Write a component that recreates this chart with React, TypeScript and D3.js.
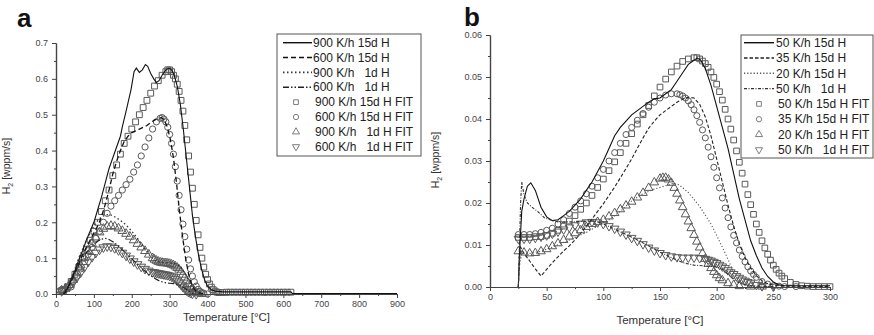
import React, { useEffect, useRef } from 'react'
import * as d3 from 'd3'

type Pt = [number, number]

// ---- panel a : T [°C] vs H2 [wppm/s] ----
const a900_15dH: Pt[] = [[20,0],[25,0.004],[30,0.015],[40,0.04],[50,0.065],[60,0.095],[70,0.12],[80,0.15],[90,0.175],[100,0.2],[110,0.235],[120,0.27],[130,0.31],[140,0.35],[150,0.38],[160,0.41],[170,0.44],[175,0.466],[185,0.51],[198,0.57],[206,0.62],[212,0.63],[220,0.618],[228,0.625],[236,0.64],[242,0.635],[250,0.615],[258,0.6],[265,0.59],[272,0.595],[280,0.61],[290,0.625],[298,0.63],[305,0.625],[312,0.61],[320,0.58],[328,0.53],[336,0.46],[344,0.38],[352,0.3],[360,0.22],[368,0.16],[376,0.11],[384,0.07],[392,0.04],[400,0.022],[410,0.012],[420,0.008],[440,0.006],[520,0.006],[620,0.006],[624,0.001],[900,0.001]]
const a600_15dH: Pt[] = [[20,0],[30,0.015],[40,0.035],[50,0.06],[60,0.085],[70,0.11],[80,0.13],[90,0.15],[100,0.17],[110,0.19],[120,0.215],[130,0.25],[140,0.29],[150,0.335],[160,0.37],[170,0.4],[180,0.425],[190,0.44],[200,0.45],[210,0.455],[220,0.46],[230,0.465],[240,0.47],[250,0.478],[260,0.485],[270,0.49],[278,0.492],[286,0.485],[294,0.465],[302,0.43],[310,0.38],[318,0.31],[326,0.23],[334,0.16],[342,0.1],[350,0.055],[358,0.027],[366,0.012],[375,0.004],[390,0]]
const a900_1dH: Pt[] = [[20,0],[30,0.02],[40,0.045],[50,0.07],[60,0.1],[70,0.125],[80,0.15],[90,0.17],[100,0.19],[110,0.205],[120,0.215],[130,0.22],[140,0.222],[150,0.218],[160,0.212],[170,0.205],[180,0.197],[190,0.187],[200,0.175],[210,0.162],[220,0.148],[230,0.133],[240,0.118],[250,0.104],[260,0.095],[270,0.09],[280,0.088],[290,0.087],[300,0.087],[310,0.086],[320,0.082],[330,0.074],[340,0.058],[350,0.036],[360,0.016],[370,0.005],[380,0]]
const a600_1dH: Pt[] = [[20,0],[30,0.015],[40,0.035],[50,0.06],[60,0.08],[70,0.1],[80,0.115],[90,0.128],[100,0.138],[110,0.147],[120,0.153],[130,0.155],[140,0.152],[150,0.146],[160,0.138],[170,0.128],[180,0.118],[190,0.108],[200,0.098],[210,0.088],[220,0.078],[230,0.068],[240,0.059],[250,0.051],[260,0.044],[270,0.038],[280,0.034],[290,0.031],[300,0.03],[310,0.029],[320,0.027],[330,0.023],[340,0.016],[350,0.008],[360,0.002],[370,0]]

const a900_15dFit: Pt[] = [[15,0.01],[20,0.012],[30,0.02],[40,0.035],[50,0.055],[60,0.075],[70,0.1],[80,0.125],[90,0.15],[100,0.175],[110,0.2],[120,0.23],[130,0.26],[140,0.29],[150,0.33],[160,0.36],[170,0.39],[180,0.42],[190,0.44],[200,0.46],[210,0.48],[220,0.5],[230,0.52],[240,0.54],[250,0.56],[260,0.58],[270,0.595],[280,0.61],[290,0.62],[295,0.625],[300,0.625],[305,0.62],[310,0.61],[315,0.6],[320,0.585],[325,0.565],[330,0.54],[335,0.51],[340,0.47],[345,0.43],[350,0.385],[355,0.34],[360,0.295],[365,0.25],[370,0.205],[375,0.165],[380,0.13],[385,0.1],[390,0.075],[395,0.055],[400,0.04],[405,0.028],[410,0.019],[415,0.012],[420,0.008],[425,0.005],[430,0.004],[440,0.004],[450,0.005],[460,0.005],[470,0.005],[480,0.005],[490,0.005],[500,0.005],[510,0.005],[520,0.005],[530,0.005],[540,0.005],[550,0.005],[560,0.005],[570,0.005],[580,0.005],[590,0.005],[600,0.005],[610,0.005],[620,0.005]]
const a600_15dFit: Pt[] = [[15,0.012],[40,0.02],[45,0.035],[55,0.05],[65,0.07],[75,0.09],[85,0.11],[95,0.13],[105,0.155],[115,0.175],[125,0.2],[135,0.225],[145,0.245],[155,0.26],[165,0.275],[175,0.29],[185,0.305],[195,0.32],[205,0.34],[215,0.36],[225,0.385],[235,0.41],[245,0.435],[255,0.46],[265,0.48],[275,0.49],[280,0.492],[285,0.488],[290,0.48],[295,0.465],[300,0.445],[305,0.42],[310,0.39],[315,0.355],[320,0.315],[325,0.275],[330,0.235],[335,0.195],[340,0.16],[345,0.125],[350,0.095],[355,0.07],[360,0.05],[365,0.034],[370,0.022],[375,0.013],[380,0.007],[385,0.004],[390,0.002],[400,0]]
const a900_1dFit: Pt[] = [[15,0.01],[25,0.015],[35,0.025],[45,0.04],[55,0.06],[65,0.08],[75,0.1],[85,0.12],[95,0.14],[105,0.158],[115,0.172],[125,0.182],[135,0.188],[145,0.19],[155,0.188],[165,0.183],[175,0.176],[185,0.168],[195,0.16],[205,0.15],[215,0.14],[225,0.13],[235,0.12],[245,0.11],[255,0.1],[260,0.096],[265,0.093],[270,0.09],[275,0.088],[280,0.087],[285,0.086],[290,0.086],[295,0.085],[300,0.084],[305,0.082],[310,0.08],[315,0.077],[320,0.073],[325,0.068],[330,0.062],[335,0.054],[340,0.046],[345,0.037],[350,0.028],[355,0.02],[360,0.013],[365,0.008],[370,0.004],[375,0.002],[385,0]]
const a600_1dFit: Pt[] = [[15,0.008],[25,0.012],[35,0.02],[45,0.032],[55,0.046],[65,0.06],[75,0.075],[85,0.09],[95,0.103],[105,0.115],[115,0.124],[125,0.13],[135,0.133],[145,0.132],[155,0.128],[165,0.122],[175,0.115],[185,0.107],[195,0.099],[205,0.091],[215,0.083],[225,0.076],[235,0.07],[245,0.065],[255,0.061],[260,0.06],[265,0.059],[270,0.058],[275,0.057],[280,0.056],[285,0.055],[290,0.054],[295,0.053],[300,0.051],[305,0.049],[310,0.046],[315,0.042],[320,0.037],[325,0.032],[330,0.026],[335,0.02],[340,0.015],[345,0.01],[350,0.006],[355,0.003],[360,0.001],[370,0]]

// ---- panel b ----
const b50_15dH: Pt[] = [[25,0],[26,0.008],[28,0.018],[30,0.021],[33,0.024],[36,0.0248],[40,0.023],[45,0.019],[50,0.0167],[55,0.0158],[60,0.016],[65,0.017],[70,0.018],[75,0.0195],[80,0.021],[85,0.023],[90,0.025],[95,0.0275],[100,0.03],[105,0.033],[110,0.036],[115,0.038],[120,0.0395],[125,0.041],[130,0.042],[135,0.043],[140,0.044],[145,0.0448],[150,0.045],[155,0.046],[160,0.047],[165,0.049],[170,0.051],[175,0.053],[180,0.054],[183,0.0545],[186,0.054],[190,0.052],[195,0.048],[200,0.043],[205,0.038],[210,0.033],[215,0.027],[220,0.021],[225,0.016],[230,0.011],[235,0.0075],[240,0.0045],[245,0.0025],[250,0.0012],[255,0.0005],[260,0.0003],[300,0.0003]]
const b35_15dH: Pt[] = [[25,0],[26,0.006],[27,0.0095],[30,0.008],[35,0.0062],[40,0.0043],[45,0.0026],[50,0.0042],[55,0.0058],[60,0.0072],[65,0.0086],[70,0.0098],[75,0.0112],[80,0.0128],[85,0.0145],[90,0.0162],[95,0.018],[100,0.0198],[105,0.0218],[110,0.0238],[115,0.026],[120,0.0282],[125,0.0305],[130,0.033],[135,0.0355],[140,0.0378],[145,0.0395],[150,0.041],[155,0.042],[160,0.043],[165,0.044],[170,0.0447],[175,0.0452],[180,0.045],[185,0.0435],[190,0.0405],[195,0.036],[200,0.0305],[205,0.025],[210,0.0195],[215,0.0145],[220,0.0103],[225,0.007],[230,0.0045],[235,0.0027],[240,0.0015],[245,0.0008],[250,0.0004],[260,0.0002],[300,0.0001]]
const b20_15dH: Pt[] = [[25,0],[26,0.005],[28,0.008],[35,0.008],[45,0.0085],[55,0.0095],[65,0.0106],[75,0.0118],[85,0.013],[95,0.0145],[105,0.016],[115,0.018],[125,0.0205],[135,0.0222],[145,0.0233],[155,0.0241],[162,0.0247],[167,0.0243],[175,0.0225],[185,0.0192],[195,0.015],[205,0.0095],[210,0.0066],[215,0.0035],[220,0.0015],[225,0.0005],[235,0.0001],[250,0]]
const b50_1dH: Pt[] = [[25,0],[26,0.01],[27,0.02],[28,0.025],[30,0.022],[33,0.02],[37,0.019],[42,0.018],[48,0.0165],[55,0.0158],[60,0.0155],[70,0.0155],[80,0.0156],[90,0.0157],[95,0.0155],[100,0.015],[110,0.0138],[120,0.0125],[130,0.0112],[140,0.0098],[150,0.0083],[160,0.007],[170,0.0058],[180,0.0052],[190,0.005],[200,0.0048],[205,0.0042],[210,0.003],[215,0.0018],[220,0.0009],[230,0.0003],[250,0.0001]]

const b50_15dFit: Pt[] = [[25,0.0118],[30,0.0118],[35,0.0118],[40,0.012],[45,0.012],[50,0.0123],[55,0.0128],[60,0.0135],[65,0.0145],[70,0.0157],[75,0.017],[80,0.0185],[85,0.02],[90,0.0218],[95,0.0237],[100,0.0257],[105,0.0277],[110,0.0298],[115,0.032],[120,0.0342],[125,0.0365],[130,0.0388],[135,0.041],[140,0.0432],[145,0.0455],[150,0.0476],[155,0.0495],[160,0.0512],[165,0.0526],[170,0.0537],[175,0.0543],[180,0.0546],[182.5,0.0546],[185,0.0543],[187.5,0.0538],[190,0.0532],[192.5,0.0523],[195,0.0512],[197.5,0.0499],[200,0.0483],[202.5,0.0465],[205,0.0445],[207.5,0.0423],[210,0.04],[212.5,0.0376],[215,0.035],[217.5,0.0324],[220,0.0297],[222.5,0.0271],[225,0.0245],[227.5,0.022],[230,0.0196],[232.5,0.0173],[235,0.015],[237.5,0.013],[240,0.011],[242.5,0.0093],[245,0.0078],[247.5,0.0064],[250,0.0052],[252.5,0.0042],[255,0.0033],[257.5,0.0026],[260,0.002],[265,0.0011],[270,0.0006],[275,0.0003],[280,0.0002],[285,0.0001],[290,0.0001],[295,0.0001],[300,0.0001]]
const b35_15dFit: Pt[] = [[25,0.0125],[30,0.0125],[35,0.0125],[40,0.0127],[45,0.013],[50,0.0135],[55,0.014],[60,0.015],[65,0.016],[70,0.0175],[75,0.019],[80,0.0205],[85,0.0222],[90,0.024],[95,0.026],[100,0.028],[105,0.03],[110,0.032],[115,0.0342],[120,0.0363],[125,0.038],[130,0.0397],[135,0.0413],[140,0.0428],[145,0.044],[150,0.045],[155,0.0457],[160,0.046],[165,0.046],[167.5,0.0458],[170,0.0455],[172.5,0.045],[175,0.0443],[177.5,0.0434],[180,0.0422],[182.5,0.0408],[185,0.0392],[187.5,0.0374],[190,0.0355],[192.5,0.0333],[195,0.031],[197.5,0.0285],[200,0.026],[202.5,0.0236],[205,0.0212],[207.5,0.0188],[210,0.0165],[212.5,0.0143],[215,0.0123],[217.5,0.0105],[220,0.0088],[222.5,0.0073],[225,0.006],[227.5,0.0048],[230,0.0038],[232.5,0.003],[235,0.0023],[240,0.0013],[245,0.0007],[250,0.0003],[255,0.0002],[260,0.0001],[270,0.0001]]
const b20_15dFit: Pt[] = [[25,0.0085],[30,0.0082],[35,0.008],[40,0.0081],[45,0.0085],[50,0.009],[55,0.0097],[60,0.0104],[65,0.0112],[70,0.012],[75,0.0128],[80,0.0135],[85,0.0143],[90,0.015],[95,0.0155],[100,0.016],[105,0.0168],[110,0.0176],[115,0.0185],[120,0.0194],[125,0.0203],[130,0.0213],[135,0.0224],[140,0.0236],[145,0.0249],[150,0.0258],[152.5,0.026],[155,0.026],[157.5,0.0256],[160,0.0248],[162.5,0.0236],[165,0.0222],[167.5,0.0206],[170,0.019],[172.5,0.0173],[175,0.0156],[177.5,0.014],[180,0.0124],[182.5,0.0108],[185,0.0094],[187.5,0.008],[190,0.0067],[192.5,0.0055],[195,0.0045],[197.5,0.0036],[200,0.0028],[202.5,0.0021],[205,0.0016],[210,0.0009],[215,0.0005],[220,0.0002],[230,0.0001],[240,0.0001]]
const b50_1dFit: Pt[] = [[25,0.0115],[30,0.0115],[35,0.0115],[40,0.0117],[45,0.012],[50,0.0123],[55,0.0127],[60,0.0132],[65,0.0137],[70,0.0142],[75,0.0147],[80,0.0151],[85,0.0154],[90,0.0155],[95,0.0154],[100,0.015],[105,0.0145],[110,0.0139],[115,0.0132],[120,0.0125],[125,0.0117],[130,0.011],[135,0.0102],[140,0.0094],[145,0.0087],[150,0.0081],[155,0.0076],[160,0.0073],[165,0.0071],[170,0.007],[175,0.007],[180,0.007],[185,0.0069],[190,0.0067],[192.5,0.0065],[195,0.0063],[197.5,0.006],[200,0.0057],[202.5,0.0053],[205,0.0049],[207.5,0.0045],[210,0.004],[212.5,0.0035],[215,0.0031],[217.5,0.0026],[220,0.0022],[222.5,0.0018],[225,0.0015],[227.5,0.0012],[230,0.0009],[235,0.0005],[240,0.0002],[250,0.0001]]

// axis ticks
const aXTicks = [0, 100, 200, 300, 400, 500, 600, 700, 800, 900]
const aXMinor = [50, 150, 250, 350, 450, 550, 650, 750, 850]
const aYTicks = [0, 0.1, 0.2, 0.3, 0.4, 0.5, 0.6, 0.7]
const aYMinor = [0.05, 0.15, 0.25, 0.35, 0.45, 0.55, 0.65]
const bXTicks = [0, 50, 100, 150, 200, 250, 300]
const bXMinor = [25, 75, 125, 175, 225, 275]
const bYTicks = [0, 0.01, 0.02, 0.03, 0.04, 0.05, 0.06]
const bYMinor = [0.005, 0.015, 0.025, 0.035, 0.045, 0.055]

const aLegend = ['900 K/h 15d H', '600 K/h 15d H', '900 K/h \u20071d H', '600 K/h \u20071d H', '900 K/h 15d H FIT', '600 K/h 15d H FIT', '900 K/h \u20071d H FIT', '600 K/h \u20071d H FIT']
const bLegend = ['50 K/h 15d H', '35 K/h 15d H', '20 K/h 15d H', '50 K/h \u20071d H', '50 K/h 15d H FIT', '35 K/h 15d H FIT', '20 K/h 15d H FIT', '50 K/h \u20071d H FIT']

const FONT = '"Liberation Sans", Arial, sans-serif'
const W = 874, H = 335

const symTypes = [d3.symbolSquare, d3.symbolCircle, d3.symbolTriangle, d3.symbolTriangle]
const symRot = ['', '', '', ' rotate(180)']
const MARK = '#5a5a5a'

function drawPanel(svg: any, p: any) {
  const x = d3.scaleLinear().domain(p.xDomain).range([p.left, p.right])
  const y = d3.scaleLinear().domain(p.yDomain).range([p.bottom, p.top])
  const g = svg.append('g')

  // fit markers first, lines on top
  p.fits.forEach((data: Pt[], i: number) => {
    g.append('g').selectAll('path').data(data).join('path')
      .attr('transform', (d: Pt) => `translate(${x(d[0])},${y(d[1])})${symRot[i]}`)
      .attr('d', d3.symbol().type(symTypes[i]).size(i === 1 ? p.msize * 0.9 : p.msize))
      .attr('fill', 'none').attr('stroke', MARK).attr('stroke-width', 1)
  })
  const line = d3.line<Pt>().x(d => x(d[0])).y(d => y(d[1]))
  p.lines.forEach((data: Pt[], i: number) => {
    g.append('path').attr('d', line(data)).attr('fill', 'none')
      .attr('stroke', p.lineColor[i]).attr('stroke-width', p.lineW[i])
      .attr('stroke-dasharray', p.dash[i])
  })

  // axes
  const styleAxis = (ax: any) => {
    ax.select('.domain').attr('stroke', '#444').attr('stroke-width', 1.2)
    ax.selectAll('line').attr('stroke', '#444').attr('stroke-width', 1)
    ax.selectAll('text').attr('font-family', FONT).attr('font-size', 9).attr('fill', '#444')
  }
  const xa = g.append('g').attr('transform', `translate(0,${p.bottom})`)
    .call(d3.axisBottom(x).tickValues(p.xTicks).tickSize(4).tickSizeOuter(0).tickPadding(3))
  styleAxis(xa)
  const xm = g.append('g').attr('transform', `translate(0,${p.bottom})`)
    .call(d3.axisBottom(x).tickValues(p.xMinor).tickSize(2).tickSizeOuter(0).tickFormat(() => ''))
  styleAxis(xm)
  const ya = g.append('g').attr('transform', `translate(${p.left},0)`)
    .call(d3.axisLeft(y).tickValues(p.yTicks).tickSize(4).tickSizeOuter(0).tickPadding(4).tickFormat(d3.format(p.yFmt)))
  styleAxis(ya)
  const ym = g.append('g').attr('transform', `translate(${p.left},0)`)
    .call(d3.axisLeft(y).tickValues(p.yMinor).tickSize(2).tickSizeOuter(0).tickFormat(() => ''))
  styleAxis(ym)

  // titles
  g.append('text').attr('x', (p.left + p.right) / 2).attr('y', p.xTitleY)
    .attr('text-anchor', 'middle').attr('font-family', FONT).attr('font-size', 11.5).attr('fill', '#333')
    .text('Temperature [°C]')
  const yt = g.append('text').attr('transform', `translate(${p.yTitleX},${p.yTitleY}) rotate(-90)`)
    .attr('text-anchor', 'middle').attr('font-family', FONT).attr('font-size', 10.5).attr('fill', '#333')
  yt.append('tspan').text('H')
  yt.append('tspan').attr('font-size', 7).attr('dy', 2.5).text('2')
  yt.append('tspan').attr('dy', -2.5).text(' [wppm/s]')

  g.append('text').attr('x', p.letterX).attr('y', p.letterY).attr('font-family', FONT)
    .attr('font-weight', 'bold').attr('font-size', 26).attr('fill', '#111').text(p.letter)

  // legend
  const L = p.legend
  g.append('rect').attr('x', L.x).attr('y', L.y).attr('width', L.w).attr('height', L.h)
    .attr('fill', '#fff').attr('stroke', '#555').attr('stroke-width', 1)
  p.labels.forEach((lab: string, i: number) => {
    const cy = L.row0 + i * L.dy
    if (i < 4) {
      g.append('line').attr('x1', L.lx0).attr('x2', L.lx1).attr('y1', cy).attr('y2', cy)
        .attr('stroke', p.lineColor[i]).attr('stroke-width', p.lineW[i] + 0.3).attr('stroke-dasharray', p.dash[i])
    } else {
      const k = i - 4
      g.append('path').attr('transform', `translate(${L.sx},${cy})${symRot[k]}`)
        .attr('d', d3.symbol().type(symTypes[k]).size(22))
        .attr('fill', 'none').attr('stroke', '#707070').attr('stroke-width', 0.9)
    }
    g.append('text').attr('x', i < 4 ? L.tx : L.tx + 2).attr('y', cy + 4.2)
      .attr('font-family', FONT).attr('font-size', 12).attr('fill', '#222')
      .style('white-space', 'pre').text(lab)
  })
}

const panelA = {
  left: 56, right: 397, top: 43, bottom: 294, xDomain: [0, 900], yDomain: [0, 0.7],
  xTicks: aXTicks, xMinor: aXMinor, yTicks: aYTicks, yMinor: aYMinor, yFmt: '.1f',
  lines: [a900_15dH, a600_15dH, a900_1dH, a600_1dH],
  fits: [a900_15dFit, a600_15dFit, a900_1dFit, a600_1dFit],
  lineColor: ['#111', '#111', '#333', '#222'], lineW: [1.1, 1.3, 1.3, 1.2],
  dash: [null, '5,3', '1.5,2.5', '6,2,1.5,2,1.5,2'],
  msize: 34, labels: aLegend, letter: 'a', letterX: 17, letterY: 27,
  xTitleY: 321, yTitleX: 10, yTitleY: 166,
  legend: { x: 277, y: 34, w: 144, h: 122, row0: 42.7, dy: 14.86, lx0: 283, lx1: 312, sx: 296, tx: 313 },
}
const panelB = {
  left: 490, right: 830, top: 35, bottom: 287, xDomain: [0, 300], yDomain: [0, 0.06],
  xTicks: bXTicks, xMinor: bXMinor, yTicks: bYTicks, yMinor: bYMinor, yFmt: '.2f',
  lines: [b50_15dH, b35_15dH, b20_15dH, b50_1dH],
  fits: [b50_15dFit, b35_15dFit, b20_15dFit, b50_1dFit],
  lineColor: ['#111', '#222', '#555', '#333'], lineW: [1.1, 1.1, 1.1, 1.1],
  dash: [null, '3.5,2', '1.2,2', '3,1.5,1,1.5'],
  msize: 32, labels: bLegend, letter: 'b', letterX: 464, letterY: 26,
  xTitleY: 324, yTitleX: 439, yTitleY: 160,
  legend: { x: 741, y: 35, w: 132, h: 123, row0: 42.7, dy: 15.3, lx0: 744, lx1: 774, sx: 759, tx: 776 },
}

export default function App() {
  const ref = useRef<SVGSVGElement>(null)
  useEffect(() => {
    const svg = d3.select(ref.current)
    svg.selectAll('*').remove()
    svg.append('rect').attr('width', W).attr('height', H).attr('fill', '#fff')
    drawPanel(svg, panelA)
    drawPanel(svg, panelB)
  }, [])
  return (
    <svg ref={ref} width={W} height={H}
      style={{ position: 'absolute', left: 0, top: 0, background: '#fff' }} />
  )
}
